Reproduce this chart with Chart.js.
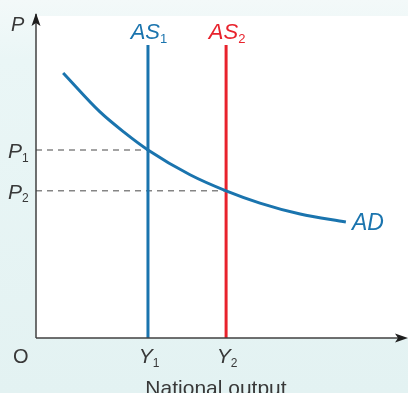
<!DOCTYPE html>
<html>
<head>
    <meta charset="UTF-8">
    <title>AS AD</title>
    <style>
        html, body { margin: 0; padding: 0; }
        body {
            width: 408px; height: 393px; overflow: hidden;
            background: linear-gradient(180deg, #f3f9f9 0px, #eaf6f6 60px, #e3f2f2 393px);
        }
        #wrap { width: 408px; height: 393px; position: relative; }
    </style>
</head>
<body>
    <div id="wrap"><canvas id="chart"></canvas></div>
    <script src="https://cdn.jsdelivr.net/npm/chart.js"></script>
    <script>
        // AD curve (x = output, y = price level, 0..100)
        const adX = [7.3, 17.2, 23.9, 30.1, 41.4, 51.1, 60.2, 71.0, 83.3];
        const adY = [82.3, 70.2, 63.7, 58.4, 50.7, 45.7, 41.9, 38.5, 36.0];

        // vertical supply lines
        const asNames = ['AS', 'AS'];
        const asSubs = ['1', '2'];
        const asX = [30.1, 51.1];
        const asTop = 91;
        const asColors = ['#1a74ae', '#e8222c'];

        // price / output levels
        const pLabels = ['1', '2'];
        const pValues = [58.4, 45.7];
        const yLabels = ['1', '2'];
        const yValues = [30.1, 51.1];

        const blue = '#1a74ae';
        const FONT = '"Liberation Sans", Arial, sans-serif';

        const datasets = [
            {
                label: 'AD',
                data: adX.map((x, i) => ({ x: x, y: adY[i] })),
                borderColor: blue,
                borderWidth: 3,
                pointRadius: 0,
                cubicInterpolationMode: 'monotone',
                fill: false,
            },
        ];
        asX.forEach((x, i) => {
            datasets.push({
                label: asNames[i] + asSubs[i],
                data: [{ x: x, y: 0 }, { x: x, y: asTop }],
                borderColor: asColors[i],
                borderWidth: 3,
                pointRadius: 0,
                fill: false,
            });
        });
        pValues.forEach((p, i) => {
            datasets.push({
                label: 'P' + pLabels[i],
                data: [{ x: 0, y: p }, { x: yValues[i], y: p }],
                borderColor: '#858585',
                borderWidth: 1.5,
                borderDash: [6, 5],
                pointRadius: 0,
                fill: false,
            });
        });

        // draws text with a subscript
        function subText(ctx, main, sub, x, y, size, color, italic, align) {
            const mainFont = (italic ? 'italic ' : '') + size + 'px ' + FONT;
            const subFont = Math.round(size * 0.58) + 'px ' + FONT;
            ctx.fillStyle = color;
            ctx.textBaseline = 'alphabetic';
            ctx.textAlign = 'left';
            ctx.font = mainFont;
            const w1 = ctx.measureText(main).width;
            ctx.font = subFont;
            const w2 = sub ? ctx.measureText(sub).width : 0;
            let x0 = x;
            if (align === 'center') x0 = x - (w1 + w2) / 2;
            ctx.font = mainFont;
            ctx.fillText(main, x0, y);
            if (sub) {
                ctx.font = subFont;
                ctx.fillText(sub, x0 + w1, y + size * 0.17);
            }
        }

        const bgPlugin = {
            id: 'bg',
            beforeDraw(chart) {
                const { ctx, chartArea: a } = chart;
                ctx.save();
                ctx.fillStyle = '#ffffff';
                ctx.fillRect(a.left, a.top, a.right - a.left, a.bottom - a.top);
                ctx.restore();
            },
        };

        const axesPlugin = {
            id: 'axes',
            afterDatasetsDraw(chart) {
                const { ctx, chartArea: a, scales } = chart;
                const xs = scales.x, ys = scales.y;
                ctx.save();
                ctx.strokeStyle = '#404040';
                ctx.fillStyle = '#1e1e1e';
                ctx.lineWidth = 1.5;
                // y axis
                ctx.beginPath();
                ctx.moveTo(a.left, a.bottom);
                ctx.lineTo(a.left, a.top - 2);
                ctx.stroke();
                ctx.beginPath();
                ctx.moveTo(a.left, a.top - 3);
                ctx.lineTo(a.left - 4.5, a.top + 10);
                ctx.lineTo(a.left, a.top + 7);
                ctx.lineTo(a.left + 4.5, a.top + 10);
                ctx.closePath();
                ctx.fill();
                // x axis
                ctx.beginPath();
                ctx.moveTo(a.left, a.bottom);
                ctx.lineTo(a.right - 4, a.bottom);
                ctx.stroke();
                ctx.beginPath();
                ctx.moveTo(a.right, a.bottom);
                ctx.lineTo(a.right - 13, a.bottom - 4.5);
                ctx.lineTo(a.right - 10, a.bottom);
                ctx.lineTo(a.right - 13, a.bottom + 4.5);
                ctx.closePath();
                ctx.fill();

                // labels
                const dark = '#383838';
                subText(ctx, 'P', '', 11, 31, 20, dark, true, 'left');
                pValues.forEach((p, i) => {
                    subText(ctx, 'P', pLabels[i], 8, ys.getPixelForValue(p) + 8, 21, dark, true, 'left');
                });
                yValues.forEach((v, i) => {
                    subText(ctx, 'Y', yLabels[i], xs.getPixelForValue(v) + 1, a.bottom + 25, 21, dark, true, 'center');
                });
                asX.forEach((v, i) => {
                    subText(ctx, asNames[i], asSubs[i], xs.getPixelForValue(v) + 1, 39, 22, asColors[i], true, 'center');
                });
                const last = adX.length - 1;
                subText(ctx, 'AD', '', xs.getPixelForValue(adX[last]) + 6, ys.getPixelForValue(adY[last]) + 8, 23, blue, true, 'left');

                ctx.font = '20px ' + FONT;
                ctx.fillStyle = dark;
                ctx.textAlign = 'left';
                ctx.fillText('O', 13, a.bottom + 25);
                ctx.textAlign = 'center';
                ctx.font = '21px ' + FONT;
                ctx.fillText('National output', 216, a.bottom + 57);
                ctx.restore();
            },
        };

        new Chart(document.getElementById('chart').getContext('2d'), {
            type: 'line',
            data: { datasets: datasets },
            options: {
                responsive: true,
                maintainAspectRatio: false,
                animation: false,
                layout: { padding: { left: 36, right: 0, top: 16, bottom: 55 } },
                plugins: {
                    legend: { display: false },
                    tooltip: { enabled: false },
                },
                scales: {
                    x: { type: 'linear', min: 0, max: 100, display: false },
                    y: { type: 'linear', min: 0, max: 100, display: false },
                },
            },
            plugins: [bgPlugin, axesPlugin],
        });
    </script>
</body>
</html>
